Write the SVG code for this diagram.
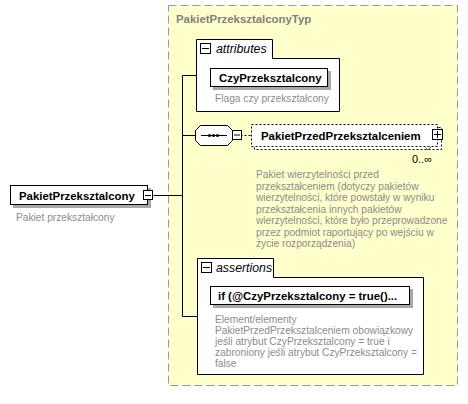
<svg xmlns="http://www.w3.org/2000/svg" width="468" height="404" viewBox="0 0 468 404">
<style>
.bold{font-family:"Liberation Sans",Arial,sans-serif;font-weight:bold;font-size:11.4px;fill:#000}
.desc{font-family:"Liberation Sans",Arial,sans-serif;font-size:10.2px;fill:#8c8c8c}
.ital{font-family:"Liberation Sans",Arial,sans-serif;font-style:italic;font-size:12.3px;fill:#000}
.box{fill:#fff;stroke:#000;stroke-width:1}
.shadow{fill:#a8a8a8}
.line{stroke:#000;stroke-width:1;fill:none}
.pm{fill:#fff;stroke:#000;stroke-width:1}
</style>
<rect x="0" y="0" width="468" height="404" fill="#fff"/>
<g id="type">
<rect x="168.5" y="5.5" width="289" height="380" fill="#ffffcc" stroke="#999" stroke-dasharray="8,4"/>
<text x="176" y="23" font-family="Liberation Sans,Arial,sans-serif" font-weight="bold" font-size="11.4" fill="#808080">PakietPrzeksztalconyTyp</text>
</g>
<g id="connectors">
<path class="line" d="M153.5 195.5H182.5M182.5 75.5V316.5M182.5 75.5H196.5M182.5 135.5H195.5M182.5 316.5H197.5"/>
<path class="line" d="M240.5 135.5H251.5" stroke-dasharray="2,2"/>
</g>
<g id="root">
<rect class="shadow" x="13" y="188" width="138" height="20"/>
<rect class="box" x="10.5" y="185.5" width="137" height="19"/>
<text class="bold" x="19" y="200">PakietPrzeksztalcony</text>
<rect class="pm" x="143.5" y="190.5" width="9" height="9"/>
<path class="line" d="M145 195.5H151"/>
<text class="desc" x="16" y="221">Pakiet przekształcony</text>
</g>
<g id="attributes">
<path class="box" d="M196.5 111.5V39.5H272.5V58.5H339.5V111.5Z"/>
<rect class="pm" x="200.5" y="43.5" width="10" height="10"/>
<path class="line" d="M202 48.5H209"/>
<text class="ital" x="216" y="53">attributes</text>
</g>
<g id="CzyPrzeksztalcony">
<rect class="shadow" x="213" y="71" width="118" height="19"/>
<rect class="box" x="210.5" y="68.5" width="117" height="18"/>
<text class="bold" x="219" y="82">CzyPrzeksztalcony</text>
<text class="desc" x="215" y="102">Flaga czy przekształcony</text>
</g>
<g id="sequence">
<path class="box" d="M200.5 125.5H227.5L232.5 130.5V140.5L227.5 145.5H200.5L195.5 140.5V130.5Z"/>
<path class="line" d="M201 135.5H227"/>
<circle cx="209.5" cy="135.5" r="1.5"/>
<circle cx="213.5" cy="135.5" r="1.5"/>
<circle cx="217.5" cy="135.5" r="1.5"/>
<rect class="pm" x="232.5" y="130.5" width="9" height="9"/>
<path class="line" d="M234 135H240"/>
</g>
<g id="PakietPrzedPrzeksztalceniem">
<path d="M254.5 127.5H441.5V149.5H254.5Z" fill="#fff" stroke="#000" stroke-dasharray="2,2"/>
<rect x="251.5" y="124.5" width="186" height="22" fill="#fff" stroke="#000" stroke-dasharray="2,2"/>
<path class="line" d="M424.5 146.5L428 150L431.5 146.5" stroke-dasharray="1,1"/>
<text class="bold" x="261" y="140">PakietPrzedPrzeksztalceniem</text>
<rect class="pm" x="432.5" y="129.5" width="10" height="10"/>
<path class="line" d="M434 134.5H441M437.5 131V138"/>
<text x="432" y="163" text-anchor="end" font-family="Liberation Sans,Arial,sans-serif" font-size="11" fill="#000">0..∞</text>
<text class="desc"><tspan x="256" y="178">Pakiet wierzytelności przed</tspan><tspan x="256" y="189.5">przekształceniem (dotyczy pakietów</tspan><tspan x="256" y="201">wierzytelności, które powstały w wyniku</tspan><tspan x="256" y="212.5">przekształcenia innych pakietów</tspan><tspan x="256" y="224">wierzytelności, które było przeprowadzone</tspan><tspan x="256" y="235.5">przez podmiot raportujący po wejściu w</tspan><tspan x="256" y="247">życie rozporządzenia)</tspan></text>
</g>
<g id="assertions">
<path class="box" d="M197.5 374.5V258.5H273.5V277.5H423.5V374.5Z"/>
<rect class="pm" x="201.5" y="262.5" width="10" height="10"/>
<path class="line" d="M203 267.5H210"/>
<text class="ital" x="216" y="272">assertions</text>
</g>
<g id="assert1">
<rect class="shadow" x="213" y="289" width="200" height="19"/>
<rect class="box" x="210.5" y="286.5" width="199" height="18"/>
<text class="bold" x="218" y="300">if (@CzyPrzeksztalcony = true()...</text>
<text class="desc"><tspan x="215" y="323">Element/elementy</tspan><tspan x="215" y="334">PakietPrzedPrzeksztalceniem obowiązkowy</tspan><tspan x="215" y="345">jeśli atrybut CzyPrzeksztalcony = true i</tspan><tspan x="215" y="356">zabroniony jeśli atrybut CzyPrzeksztalcony =</tspan><tspan x="215" y="367">false</tspan></text>
</g>
</svg>
